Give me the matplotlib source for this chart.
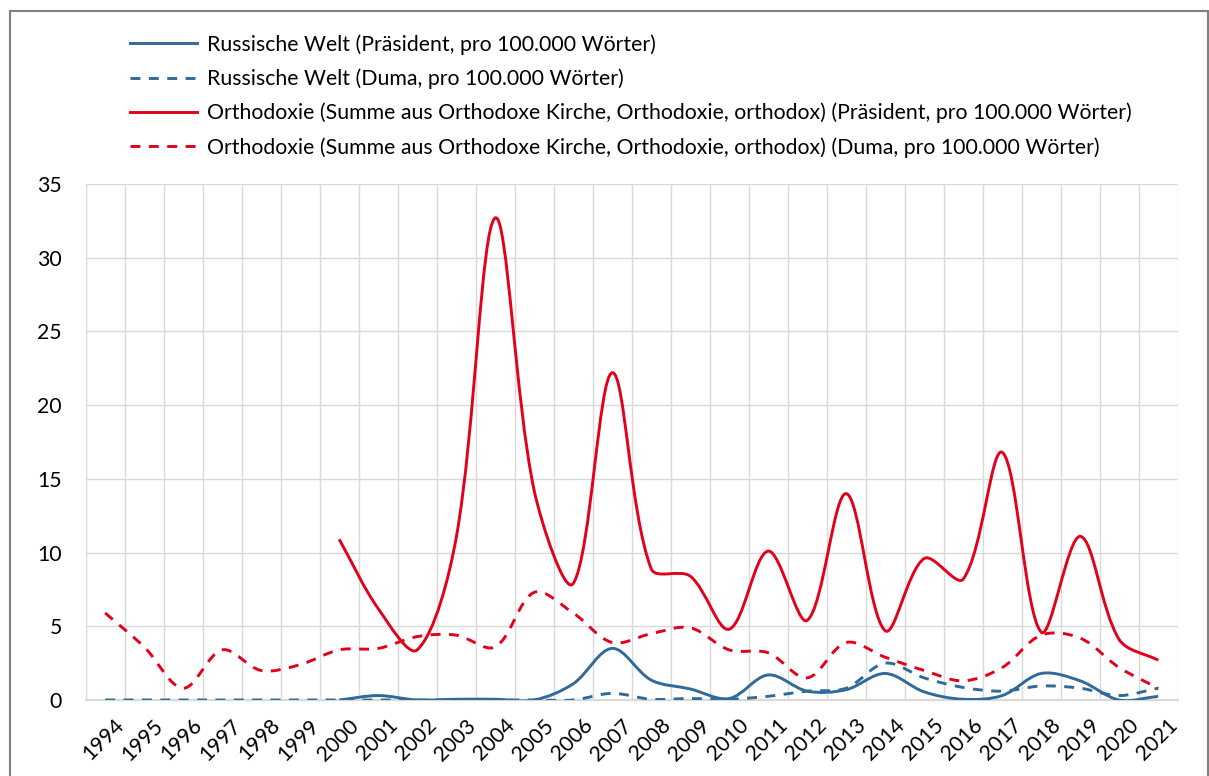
import numpy as np
import matplotlib
matplotlib.use("Agg")
import matplotlib.pyplot as plt
from matplotlib.path import Path
from matplotlib.patches import PathPatch, Rectangle
from matplotlib.lines import Line2D
from matplotlib.transforms import ScaledTranslation

plt.rcParams["font.family"] = ["Lato", "DejaVu Sans"]

### ---------------- data ---------------- ###
years = list(range(1994, 2022))

# Russische Welt, Präsident (ab 2000)
rw_praes_years = list(range(2000, 2022))
rw_praes = [0.0, 0.3, 0.0, 0.05, 0.05, 0.0, 1.1, 3.5, 1.35, 0.75, 0.1,
            1.7, 0.6, 0.7, 1.8, 0.55, 0.05, 0.3, 1.8, 1.3, 0.0, 0.25]

# Russische Welt, Duma
rw_duma = [0, 0, 0, 0, 0, 0, 0, 0, 0, 0, 0, 0, 0, 0.45, 0.05, 0.1,
           0.05, 0.25, 0.6, 0.8, 2.5, 1.5, 0.85, 0.6, 0.95, 0.8, 0.3, 0.8]

# Orthodoxie, Präsident (ab 2000)
orth_praes_years = list(range(2000, 2022))
orth_praes = [10.9, 6.2, 3.4, 11.0, 32.7, 14.2, 7.9, 22.2, 8.9, 8.4, 4.8,
              10.1, 5.4, 14.0, 4.7, 9.6, 8.2, 16.8, 4.6, 11.1, 4.1, 2.7]

# Orthodoxie, Duma
orth_duma = [5.9, 3.6, 0.8, 3.4, 2.0, 2.4, 3.4, 3.5, 4.3, 4.4, 3.6, 7.3,
             5.9, 3.9, 4.5, 4.9, 3.4, 3.2, 1.5, 3.9, 2.9, 2.0, 1.3, 2.2,
             4.4, 4.2, 2.2, 0.8]

labels = [
    "Russische Welt (Präsident, pro 100.000 Wörter)",
    "Russische Welt (Duma, pro 100.000 Wörter)",
    "Orthodoxie (Summe aus Orthodoxe Kirche, Orthodoxie, orthodox) (Präsident, pro 100.000 Wörter)",
    "Orthodoxie (Summe aus Orthodoxe Kirche, Orthodoxie, orthodox) (Duma, pro 100.000 Wörter)",
]

BLUE = "#2f6a99"
RED = "#e3001b"
GRID = "#d9d9d9"
LW = 2.1
DASH = (0, (3.4, 2.9))
FS = 15.3


### ---------------- helper: Excel-like smoothed line ---------------- ###
def smooth_path(ax, xs, ys):
    """Bezier path through the points, control points built in pixel space
    (chord-length weighted Catmull-Rom, close to what Excel draws)."""
    pts = ax.transData.transform(np.column_stack([xs, ys]))
    n = len(pts)
    ext = np.vstack([pts[0], pts, pts[-1]])
    verts = [pts[0]]
    codes = [Path.MOVETO]
    for i in range(n - 1):
        p0, p1, p2, p3 = ext[i], ext[i + 1], ext[i + 2], ext[i + 3]
        d01 = np.hypot(*(p1 - p0))
        d12 = np.hypot(*(p2 - p1))
        d23 = np.hypot(*(p3 - p2))
        a = d12 / (d01 + d12) / 3 if d01 + d12 > 0 else 0
        b = d12 / (d12 + d23) / 3 if d12 + d23 > 0 else 0
        c1 = p1 + (p2 - p0) * a
        c2 = p2 - (p3 - p1) * b
        verts += [c1, c2, p2]
        codes += [Path.CURVE4] * 3
    verts = ax.transData.inverted().transform(np.array(verts))
    return Path(verts, codes)


def add_smooth(ax, xs, ys, color, ls):
    patch = PathPatch(smooth_path(ax, xs, ys), fill=False, edgecolor=color,
                      linewidth=LW, linestyle=ls, capstyle="butt",
                      joinstyle="round", zorder=3)
    ax.add_patch(patch)


### ---------------- figure ---------------- ###
W, H = 1209, 776
fig = plt.figure(figsize=(W / 100, H / 100), dpi=100)
ax = fig.add_axes([85.7 / W, 1 - 700 / H, (1177.7 - 85.7) / W, (700 - 184) / H])

x = np.arange(len(years))
ax.set_xlim(-0.5, len(years) - 0.5)
ax.set_ylim(0, 35)

# grid
ax.set_yticks(np.arange(0, 36, 5))
ax.set_xticks(x)
ax.set_xticks(np.arange(-0.5, len(years), 1), minor=True)
ax.grid(True, which="minor", axis="x", color=GRID, lw=1)
ax.grid(True, which="major", axis="y", color=GRID, lw=1)
ax.set_axisbelow(True)
for s in ["top", "right", "left"]:
    ax.spines[s].set_visible(False)
ax.spines["bottom"].set_color(GRID)
ax.spines["bottom"].set_linewidth(1.6)
ax.tick_params(which="both", length=0)
ax.tick_params(axis="y", labelsize=FS, pad=17)
ax.set_xticklabels([str(y) for y in years], rotation=45, ha="right",
                   va="top", rotation_mode="anchor", fontsize=FS)
ax.tick_params(axis="x", pad=11)
for lab in ax.get_xticklabels():
    lab.set_transform(lab.get_transform() +
                      ScaledTranslation(9 / 100, 0, fig.dpi_scale_trans))

xp_rw = [years.index(y) for y in rw_praes_years]
xp_or = [years.index(y) for y in orth_praes_years]
add_smooth(ax, xp_rw, rw_praes, BLUE, "-")
add_smooth(ax, x, rw_duma, BLUE, DASH)
add_smooth(ax, xp_or, orth_praes, RED, "-")
add_smooth(ax, x, orth_duma, RED, DASH)

handles = [
    Line2D([], [], color=BLUE, lw=LW, ls="-"),
    Line2D([], [], color=BLUE, lw=LW, ls=DASH),
    Line2D([], [], color=RED, lw=LW, ls="-"),
    Line2D([], [], color=RED, lw=LW, ls=DASH),
]
fig.legend(handles, labels, loc="upper left",
           bbox_to_anchor=(130 / W, 1 - 34 / H), frameon=False,
           fontsize=FS, handlelength=3.15, handletextpad=0.47,
           labelspacing=0.65, borderpad=0, borderaxespad=0)

# chart border
fig.patches.append(Rectangle((10 / W, -0.05), (W - 11.5) / W, 1 - 11 / H + 0.05,
                             transform=fig.transFigure, fill=False,
                             edgecolor="#808080", linewidth=1.5))

fig.savefig("out.png", dpi=100, facecolor="w")
